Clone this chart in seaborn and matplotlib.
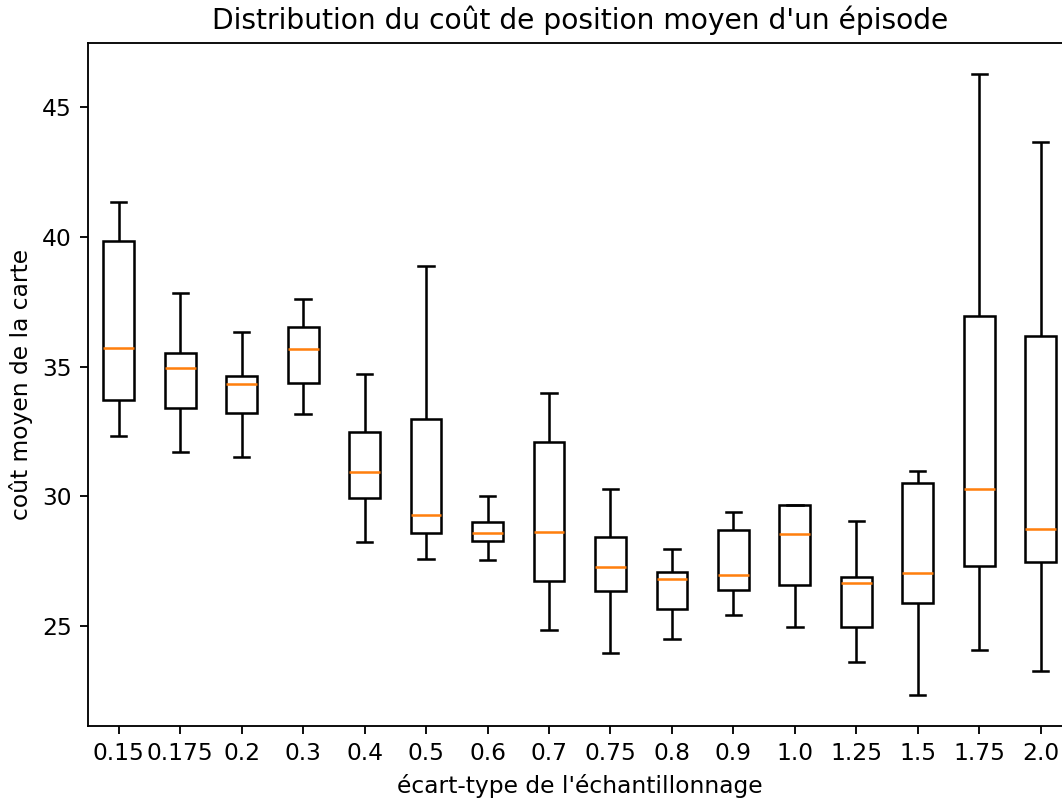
import numpy as np
import pandas as pd
import matplotlib
matplotlib.use("Agg")
import matplotlib.pyplot as plt
import seaborn as sns

categories = ["0.15", "0.175", "0.2", "0.3", "0.4", "0.5", "0.6", "0.7",
              "0.75", "0.8", "0.9", "1.0", "1.25", "1.5", "1.75", "2.0"]
whisker_low = [32.31, 31.71, 31.50, 33.16, 28.23, 27.58, 27.53, 24.83,
               23.95, 24.50, 25.41, 24.96, 23.60, 22.35, 24.09, 23.28]
q1 = [33.70, 33.41, 33.22, 34.35, 29.95, 28.57, 28.26, 26.73,
      26.34, 25.67, 26.40, 26.57, 24.95, 25.87, 27.33, 27.48]
median = [35.71, 34.94, 34.34, 35.67, 30.92, 29.29, 28.57, 28.63,
          27.27, 26.81, 26.97, 28.56, 26.67, 27.04, 30.27, 28.73]
q3 = [39.82, 35.52, 34.65, 36.52, 32.48, 32.96, 29.01, 32.09,
      28.45, 27.07, 28.71, 29.68, 26.90, 30.53, 36.93, 36.18]
whisker_high = [41.34, 37.82, 36.34, 37.60, 34.72, 38.87, 30.03, 33.99,
                30.27, 27.96, 29.39, 29.68, 29.05, 30.97, 46.28, 43.67]

rows = []
for i, c in enumerate(categories):
    for v in (whisker_low[i], q1[i], median[i], q3[i], whisker_high[i]):
        rows.append({"sigma": c, "cost": v})
df = pd.DataFrame(rows)

plt.rcParams["font.size"] = 10.15

fig = plt.figure(figsize=(6.4, 4.82), dpi=166)
ax = fig.add_axes([88 / 1062, 1 - 726 / 800, (1071 - 88) / 1062, (726 - 43) / 800])

sns.boxplot(
    data=df, x="sigma", y="cost", order=categories, ax=ax,
    whis=(0, 100), width=0.5, color="white", saturation=1,
    linecolor="black", linewidth=1.1,
    medianprops={"color": "#ff7f0e", "linewidth": 1.1},
)

ax.set_title("Distribution du coût de position moyen d'un épisode", fontsize=12.2)
ax.set_xlabel("écart-type de l'échantillonnage")
ax.set_ylabel("coût moyen de la carte")
ax.set_ylim(21.15, 47.47)
ax.set_yticks([25, 30, 35, 40, 45])

fig.savefig("out.png", dpi=166)
